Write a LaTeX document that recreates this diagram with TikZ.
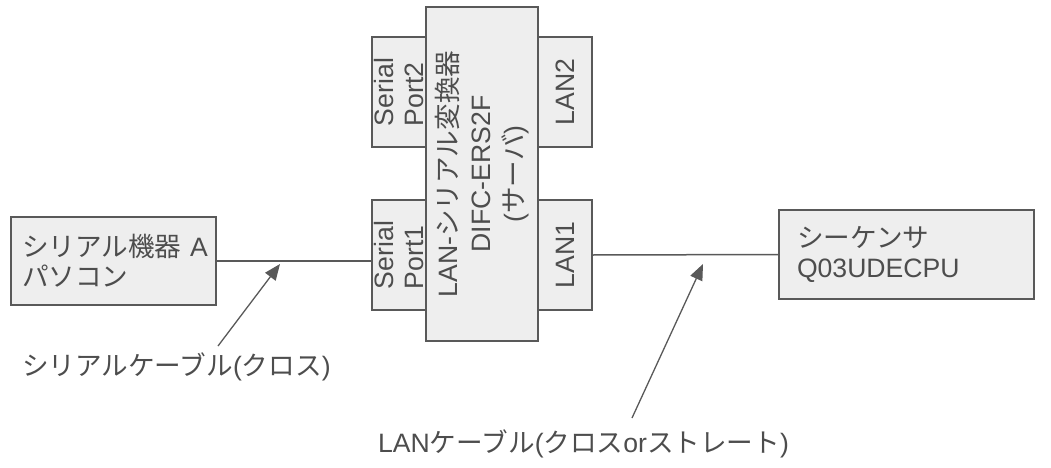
\documentclass[tikz,border=0pt]{standalone}
\usepackage{fontspec}
\setmainfont{Liberation Sans}
\newfontfamily\jp{Noto Sans CJK JP}
\usetikzlibrary{arrows.meta}
\definecolor{edgeGray}{HTML}{595959}
\definecolor{fillGray}{HTML}{EEEEEE}
\definecolor{textGray}{HTML}{4D4D4D}

\begin{document}
\begin{tikzpicture}
[x=1pt,y=-1pt,
 boxDecorate/.style={shape=rectangle,draw=edgeGray,fill=fillGray,line width=1.5pt,text=textGray,font=\fontsize{26.6}{30}\selectfont},
 portDecorate/.style={boxDecorate,rotate=90,minimum width=110pt,minimum height=54pt,inner sep=0pt,align=left},
 lineDecorate/.style={draw=edgeGray,line width=1.5pt},
 arrowDecorate/.style={lineDecorate,line width=1.3pt,-{Triangle[length=16pt,width=13pt]}},
 labelDecorate/.style={text=textGray,font=\fontsize{26.6}{30}\selectfont,inner sep=0pt,anchor=base west}]
\useasboundingbox (0,0) rectangle (1051,468);
%% ports of the converter
\foreach \nodename/\x/\y/\txt in {sp2/399/92/{Serial\\Port2}, sp1/399/255/{Serial\\Port1},
                                  lan2/565/92/{LAN2}, lan1/565/255/{LAN1}} {
  \node (\nodename) at (\x,\y) [portDecorate] {\txt};
}
%% devices
\node (conv) at (482,174) [boxDecorate,rotate=90,minimum width=334pt,minimum height=112pt,align=center]
  {LAN-{\jp シリアル変換器}\\[3pt]DIFC-ERS2F\\[3pt]({\jp サーバ})};
\node (devA) at (113.5,261) [boxDecorate,minimum height=88pt,text width=183pt,inner xsep=11pt,align=left]
  {{\jp シリアル機器}~A\\{\jp パソコン}};
\node (seq) at (906.5,254.5) [boxDecorate,minimum height=89pt,text width=219pt,inner xsep=18pt,align=left]
  {{\jp シーケンサ}\\Q03UDECPU};
%% cables
\draw[lineDecorate] (devA.east) -- (devA.east -| sp1.north);
\draw[lineDecorate] (lan1.south) -- (seq.west);
%% cable labels
\node (serialLabel) at (22,375) [labelDecorate] {{\jp シリアルケーブル}({\jp クロス})};
\node (lanLabel) at (378,452) [labelDecorate] {LAN{\jp ケーブル}({\jp クロス}or{\jp ストレート})};
\coordinate (serialTail) at (218,346);
\coordinate (serialTip) at (280,264);
\coordinate (lanTail) at (632,418);
\coordinate (lanTip) at (703,264);
\draw[arrowDecorate] (serialTail) -- (serialTip);
\draw[arrowDecorate] (lanTail) -- (lanTip);
\end{tikzpicture}
\end{document}
